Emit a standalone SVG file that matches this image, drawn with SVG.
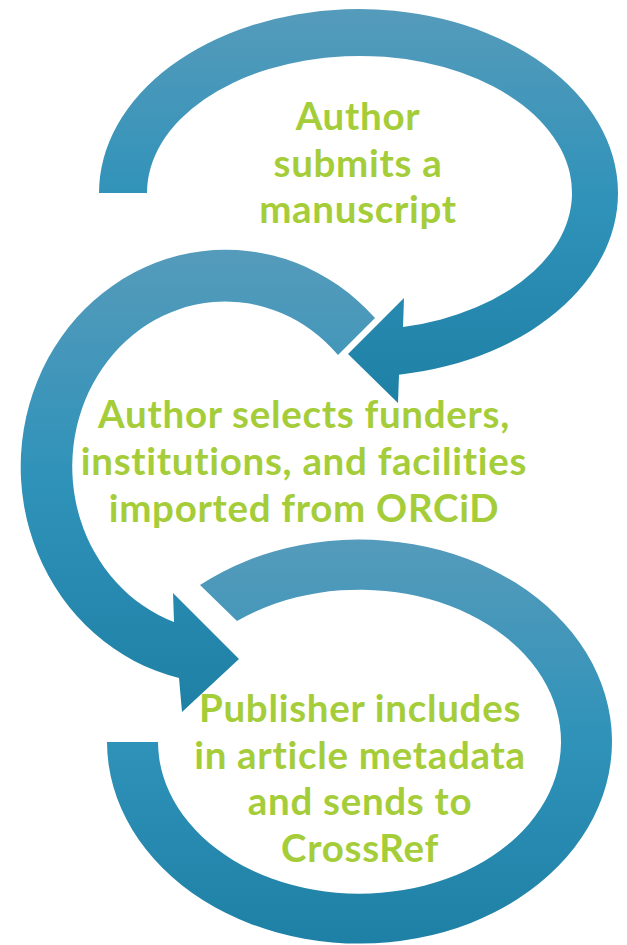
<svg xmlns="http://www.w3.org/2000/svg" width="627" height="945" viewBox="0 0 627 945">
<style>
.arrow{fill:url(#g)}
.lbl{font-family:Lato,"Open Sans","Liberation Sans",sans-serif;font-weight:bold;font-size:38.5px;letter-spacing:0.7px;fill:#a5cd39;text-anchor:middle}
</style>
<defs>
<linearGradient id="g" x1="0" y1="0" x2="0" y2="1">
<stop offset="0" stop-color="#559bbb"/>
<stop offset="0.5" stop-color="#2f92b9"/>
<stop offset="1" stop-color="#1f80a5"/>
</linearGradient>
</defs>
<rect width="627" height="945" fill="#ffffff"/>
<g id="connectors">
<path id="arrow1" class="arrow" d="M99,193 A259.5,184 0 1 1 399,374.8 L398,403 L348,354 L404,298 L403,327 A212.5,137 0 1 0 147,193 Z"/>
<path id="arrow2" class="arrow" d="M375,318 A205,217 0 1 0 179,678 L182,712 L239,659 L173,593 L174,622 A153,165 0 1 1 338,355 Z"/>
<path id="arrow3" class="arrow" d="M200,585 A252.5,202 0 1 1 107,742 L158,742 A201.5,152 0 1 0 237,621 Z"/>
</g>
<g id="node1">
<text class="lbl" x="358" y="130">Author</text>
<text class="lbl" x="358" y="176.7">submits a</text>
<text class="lbl" x="358" y="223">manuscript</text>
</g>
<g id="node2">
<text class="lbl" x="304" y="428">Author selects funders,</text>
<text class="lbl" x="304" y="475">institutions, and facilities</text>
<text class="lbl" x="304" y="522">imported from ORCiD</text>
</g>
<g id="node3">
<text class="lbl" x="360" y="722">Publisher includes</text>
<text class="lbl" x="360" y="768.5">in article metadata</text>
<text class="lbl" x="360" y="815">and sends to</text>
<text class="lbl" x="360" y="861.5">CrossRef</text>
</g>
</svg>
